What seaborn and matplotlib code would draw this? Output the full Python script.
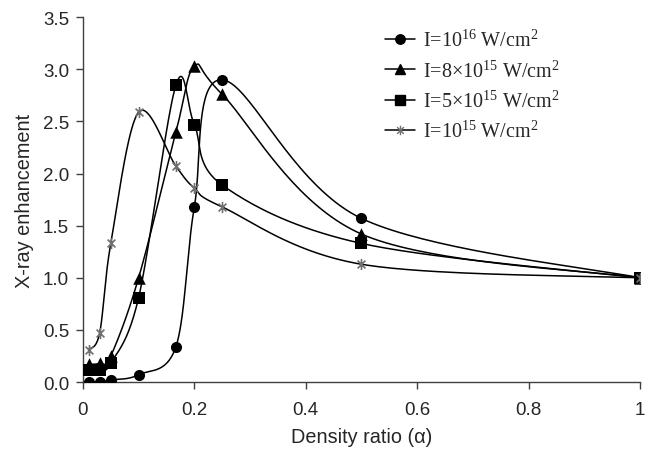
import numpy as np
import pandas as pd
import matplotlib
matplotlib.use("Agg")
import matplotlib.pyplot as plt
import seaborn as sns
from matplotlib.path import Path

# ---- data ----
alpha = [0.01, 0.03, 0.05, 0.10, 0.167, 0.20, 0.25, 0.50, 1.00]
y_1e16 = [0.00, 0.00, 0.02, 0.07, 0.34, 1.68, 2.90, 1.57, 1.00]
y_8e15 = [0.17, 0.18, 0.25, 1.00, 2.40, 3.03, 2.76, 1.42, 1.00]
y_5e15 = [0.12, 0.12, 0.18, 0.81, 2.85, 2.47, 1.89, 1.33, 1.00]
y_1e15 = [0.31, 0.47, 1.33, 2.59, 2.07, 1.86, 1.68, 1.13, 1.00]
labels = [r"I=10$^{16}$ W/cm$^{2}$",
          r"I=8×10$^{15}$ W/cm$^{2}$",
          r"I=5×10$^{15}$ W/cm$^{2}$",
          r"I=10$^{15}$ W/cm$^{2}$"]
x_ticks = [0, 0.2, 0.4, 0.6, 0.8, 1.0]
x_ticklabels = ["0", "0.2", "0.4", "0.6", "0.8", "1"]
y_ticks = [0.0, 0.5, 1.0, 1.5, 2.0, 2.5, 3.0, 3.5]

sns.set_style("ticks")
plt.rcParams["font.family"] = ["Liberation Sans", "DejaVu Sans"]
plt.rcParams["mathtext.fontset"] = "custom"
plt.rcParams["mathtext.rm"] = "Liberation Serif"
plt.rcParams["mathtext.it"] = "Liberation Serif:italic"

fig = plt.figure(figsize=(6.53, 4.56), dpi=100)
ax = fig.add_axes([0.127, 0.160, 0.853, 0.800])

# asterisk marker (vertical line + X)
d = 0.7071
star = Path([(0, 1), (0, -1), (-d, d), (d, -d), (-d, -d), (d, d)],
            [Path.MOVETO, Path.LINETO, Path.MOVETO, Path.LINETO, Path.MOVETO, Path.LINETO])

def smooth(x, y, sx=557.0, sy=208.0, n=40):
    # Catmull-Rom / Excel-like smoothing in pixel space
    P = np.column_stack([np.asarray(x) * sx, np.asarray(y) * sy])
    P = np.vstack([P[0], P, P[-1]])
    out = []
    for i in range(1, len(P) - 2):
        p0, p1, p2, p3 = P[i - 1], P[i], P[i + 1], P[i + 2]
        c1 = p1 + (p2 - p0) / 6.0
        c2 = p2 - (p3 - p1) / 6.0
        t = np.linspace(0, 1, n)[:, None]
        b = ((1 - t) ** 3) * p1 + 3 * ((1 - t) ** 2) * t * c1 + 3 * (1 - t) * t ** 2 * c2 + t ** 3 * p2
        out.append(b if i == 1 else b[1:])
    B = np.vstack(out)
    return B[:, 0] / sx, B[:, 1] / sy

series = [y_1e16, y_8e15, y_5e15, y_1e15]
markers = ["o", "^", "s", star]
msizes = [8, 9, 8, 8]
mcolors = ["black", "black", "black", "#707070"]
for ys, lab, mk, ms, mc in zip(series, labels, markers, msizes, mcolors):
    sx_, sy_ = smooth(alpha, ys)
    ax.plot(sx_, sy_, color="black", lw=1.1, zorder=2)
    df = pd.DataFrame({"alpha": alpha, "val": ys})
    sns.scatterplot(data=df, x="alpha", y="val", ax=ax, marker=mk, s=ms ** 2,
                    color=mc, edgecolor=mc, linewidth=1.2 if mk is star else 0, zorder=3)
    ax.plot([], [], color="black", lw=1.1, marker=mk, markersize=ms * 0.85,
            markerfacecolor=mc, markeredgecolor=mc, label=lab)

ax.set_xlim(0, 1)
ax.set_ylim(0, 3.5)
ax.set_xticks(x_ticks)
ax.set_xticklabels(x_ticklabels)
ax.set_yticks(y_ticks)
ax.set_yticklabels([f"{v:.1f}" for v in y_ticks])
ax.tick_params(labelsize=13.5, length=5, width=1, color="#404040", pad=5)
ax.tick_params(axis="x", pad=9)
for s in ["top", "right"]:
    ax.spines[s].set_visible(False)
for s in ["left", "bottom"]:
    ax.spines[s].set_color("#404040")
    ax.spines[s].set_linewidth(1)
ax.set_xlabel("Density ratio (α)", fontsize=14.3, labelpad=6)
ax.set_ylabel("X-ray enhancement", fontsize=14.3, labelpad=6)

leg = ax.legend(loc="upper left", bbox_to_anchor=(0.51, 1.015), frameon=False,
                prop={"family": "Liberation Serif", "size": 14.5},
                handlelength=1.5, handletextpad=0.4, labelspacing=0.45)

fig.savefig("out.png", dpi=100)
